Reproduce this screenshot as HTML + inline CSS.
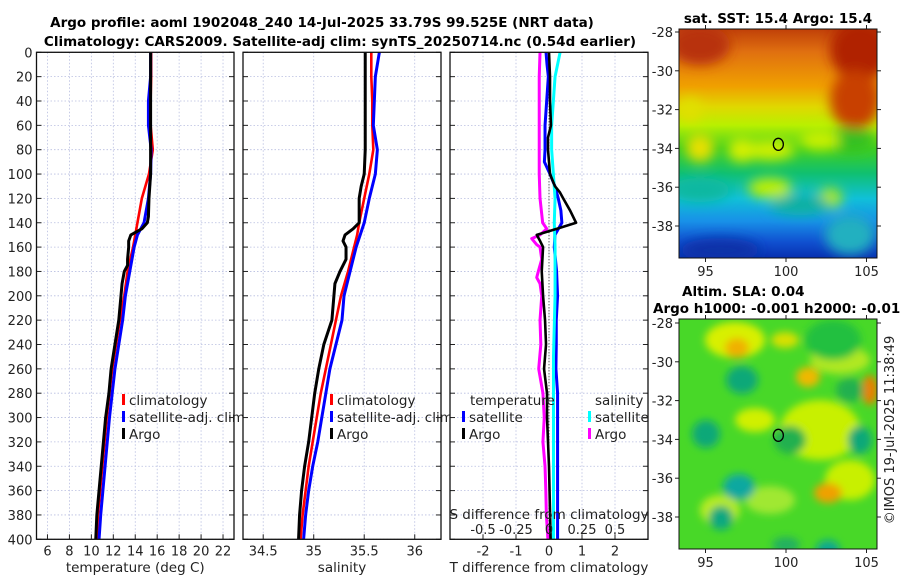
<!DOCTYPE html>
<html><head><meta charset="utf-8"><style>
html,body{margin:0;padding:0;background:#fff;}
svg{display:block;font-family:"DejaVu Sans","Liberation Sans",sans-serif;}
</style></head><body>
<svg id="fig" width="900" height="580" viewBox="0 0 900 580" xmlns="http://www.w3.org/2000/svg">
<defs>
<filter id="blur6" x="-50%" y="-50%" width="200%" height="200%"><feGaussianBlur stdDeviation="6"/></filter>
<filter id="blur4" x="-50%" y="-50%" width="200%" height="200%"><feGaussianBlur stdDeviation="4"/></filter>
<linearGradient id="sstGrad" x1="0" y1="0" x2="0" y2="1">
<stop offset="0" stop-color="#c04008"/><stop offset="0.1" stop-color="#e07010"/><stop offset="0.25" stop-color="#f0a000"/>
<stop offset="0.34" stop-color="#e0d800"/><stop offset="0.42" stop-color="#b8f000"/><stop offset="0.52" stop-color="#40d020"/>
<stop offset="0.63" stop-color="#10c070"/><stop offset="0.74" stop-color="#10c0d8"/><stop offset="0.84" stop-color="#1890e8"/>
<stop offset="0.93" stop-color="#1050d0"/><stop offset="1" stop-color="#0830b0"/></linearGradient>
<clipPath id="clipSST"><rect x="679" y="29" width="198" height="229"/></clipPath>
<clipPath id="clipSLA"><rect x="679" y="319" width="198" height="230"/></clipPath>
</defs>
<g font-weight="bold" font-size="13.5" text-anchor="middle" fill="#000">
<text x="322" y="27">Argo profile: aoml 1902048_240 14-Jul-2025 33.79S 99.525E (NRT data)</text>
<text x="340" y="46">Climatology: CARS2009. Satellite-adj clim: synTS_20250714.nc (0.54d earlier)</text>
</g>
<g id="panels"></g>
<g id="maps"></g>
<text x="0" y="0" font-size="13" fill="#222" text-anchor="middle" transform="translate(894,430) rotate(-90)">©IMOS 19-Jul-2025 11:38:49</text>
</svg>
<script>
// ---------- data ----------
const climP = [0,20,40,60,80,100,120,140,150,160,180,200,220,240,260,280,300,320,340,360,380,400];
const climT = [15.45,15.45,15.4,15.4,15.6,15.25,14.6,14.2,14.0,13.8,13.3,13.0,12.6,12.25,11.9,11.65,11.4,11.2,11.0,10.8,10.6,10.5];
const satT  = [15.4,15.4,15.2,15.2,15.45,15.4,15.2,14.8,14.2,13.9,13.5,13.1,12.85,12.5,12.15,11.9,11.65,11.45,11.25,11.05,10.85,10.7];
const climS = [35.57,35.57,35.58,35.58,35.59,35.55,35.5,35.45,35.43,35.4,35.34,35.27,35.22,35.17,35.12,35.07,35.03,34.99,34.95,34.92,34.89,34.87];
const satS  = [35.65,35.61,35.6,35.59,35.63,35.61,35.55,35.5,35.46,35.42,35.36,35.3,35.28,35.22,35.16,35.12,35.08,35.04,34.99,34.95,34.92,34.9];
const argoTP = [0,20,40,60,80,100,120,135,140,145,150,155,160,170,175,180,190,200,220,240,260,280,300,320,340,360,380,400];
const argoT  = [15.4,15.4,15.4,15.4,15.4,15.4,15.25,15.2,15.1,14.6,13.6,13.4,13.4,13.3,13.3,13.0,12.8,12.7,12.5,12.15,11.8,11.6,11.3,11.1,10.9,10.7,10.5,10.4];
const argoSP = [0,20,40,60,80,100,110,120,140,145,150,155,160,170,180,190,200,220,240,260,280,300,320,340,360,380,400];
const argoS  = [35.51,35.51,35.51,35.51,35.51,35.5,35.47,35.45,35.45,35.39,35.31,35.29,35.32,35.32,35.26,35.21,35.2,35.18,35.1,35.05,35.01,34.98,34.95,34.91,34.88,34.86,34.85];
const dTsatP = [0,10,20,40,60,80,90,100,110,120,130,140,150,160,180,200,220,240,260,280,300,340,400];
const dTsat  = [-0.09,-0.06,-0.02,-0.07,-0.12,-0.12,-0.14,0.03,0.18,0.28,0.36,0.39,0.18,0.16,0.23,0.26,0.22,0.22,0.21,0.26,0.26,0.26,0.26];
const dTargoP = [0,20,40,60,70,80,90,100,110,115,120,130,140,145,150,155,160,180,200,220,240,260,280,300,340,400];
const dTargo  = [0,0.03,0.03,0.06,-0.03,-0.03,0,0.03,0.18,0.33,0.43,0.64,0.82,0.23,-0.37,-0.27,-0.18,-0.22,-0.18,-0.12,-0.09,-0.15,-0.06,-0.06,0,0.05];
const dSsatP = [0,20,40,60,80,100,120,140,160,200,250,300,400];
const dSsat  = [0.084,0.046,0.033,0.02,0.02,0.033,0.046,0.04,0.046,0.046,0.034,0.034,0.034];
const dSargoP = [0,20,60,100,120,140,145,150,153,158,160,170,180,185,190,200,220,240,260,280,300,320,340,360,380,400];
const dSargo  = [-0.068,-0.074,-0.074,-0.074,-0.068,-0.048,-0.017,-0.068,-0.131,-0.093,-0.068,-0.055,-0.081,-0.093,-0.068,-0.055,-0.068,-0.062,-0.078,-0.046,-0.036,-0.046,-0.03,-0.024,-0.02,-0.008];
const pTicks = [0,20,40,60,80,100,120,140,160,180,200,220,240,260,280,300,320,340,360,380,400];
const tTicks = [6,8,10,12,14,16,18,20,22];
const sTicks = [34.5,35,35.5,36];
const dTTicks = [-2,-1,0,1,2];
const dSTicks = [-0.5,-0.25,0,0.25,0.5];
const dSTickLabels = ['-0.5','-0.25','0','0.25','0.5'];
const latTicks = [-28,-30,-32,-34,-36,-38];
const lonTicks = [95,100,105];
const argoLon = 99.525, argoLat = -33.79;

// ---------- helpers ----------
const NS='http://www.w3.org/2000/svg';
function mk(tag, attrs, parent, txt){const e=document.createElementNS(NS,tag);for(const k in attrs)e.setAttribute(k,attrs[k]);if(txt!==undefined)e.textContent=txt;parent.appendChild(e);return e;}
const panelsG=document.getElementById('panels');
const yTop=52.3, yBot=539.3;
function yP(p){return yTop+(p/400)*(yBot-yTop);}
function lin(d0,d1,r0,r1){return v=>r0+(v-d0)/(d1-d0)*(r1-r0);}

function panel(name,x0,x1,xmin,xmax,xt,xtl,xlabel,showY){
  const g=mk('g',{},panelsG);
  
  
  const xs=lin(xmin,xmax,x0,x1);
  mk('rect',{x:x0,y:yTop,width:x1-x0,height:yBot-yTop,fill:'#fff'},g);
  pTicks.forEach(p=>{mk('line',{x1:x0,x2:x1,y1:yP(p),y2:yP(p),stroke:'#b8bee0','stroke-width':0.8,'stroke-dasharray':'1.5,2'},g);
    mk('line',{x1:x0,x2:x0+5,y1:yP(p),y2:yP(p),stroke:'#222','stroke-width':1},g);
    mk('line',{x1:x1-5,x2:x1,y1:yP(p),y2:yP(p),stroke:'#222','stroke-width':1},g);});
  xt.forEach((t,i)=>{const x=xs(t);
    mk('line',{x1:x,x2:x,y1:yTop,y2:yBot,stroke:'#b8bee0','stroke-width':0.8,'stroke-dasharray':'1.5,2'},g);
    mk('line',{x1:x,x2:x,y1:yBot-5,y2:yBot,stroke:'#222','stroke-width':1},g);
    const lb=mk('text',{x:x,y:yBot+16,'font-size':13,'text-anchor':'middle',fill:'#222'},g,xtl[i]);
    
    });
  if(showY){pTicks.forEach(p=>{const lb=mk('text',{x:x0-4,y:yP(p)+5,'font-size':13,'text-anchor':'end',fill:'#222'},g,String(p));
    
    });}
  const xl=mk('text',{x:(x0+x1)/2,y:572,'font-size':13.5,'text-anchor':'middle',fill:'#222'},g,xlabel);
  
  
  return {g,xs};
}
function line(pn,P,V,xs,color,w,name){
  const d=P.map((p,i)=>(i?'L':'M')+xs(V[i]).toFixed(2)+','+yP(p).toFixed(2)).join('');
  const e=mk('path',{d:d,fill:'none',stroke:color,'stroke-width':w,'stroke-linejoin':'round'},pn.g);
  
  
}
function frame(g,x0,x1){mk('rect',{x:x0,y:yTop,width:x1-x0,height:yBot-yTop,fill:'none',stroke:'#111','stroke-width':1.3},g);}
function legend(g,x,y,items){items.forEach((it,i)=>{
  const ent=mk('g',{},g);
  
  
  if(it.c) mk('rect',{x:x,y:y+i*17-11,width:3,height:11,fill:it.c},ent);
  mk('text',{x:x+(it.c?7:0),y:y+i*17,'font-size':13.5,fill:'#222'},ent,it.t);});}

// Panel 1 temperature
const p1=panel('temperature-panel',36.5,234,5,23,tTicks,tTicks.map(String),'temperature (deg C)',true);
line(p1,climP,climT,p1.xs,'#f00',2.6,'climatology-temperature-line');
line(p1,climP,satT,p1.xs,'#0000ff',3,'satellite-temperature-line');
line(p1,argoTP,argoT,p1.xs,'#000',3,'argo-temperature-line');
frame(p1.g,36.5,234);
legend(p1.g,122,405,[{c:'#f00',t:'climatology'},{c:'#00f',t:'satellite-adj. clim'},{c:'#000',t:'Argo'}]);

// Panel 2 salinity
const p2=panel('salinity-panel',243,441,34.3,36.26,sTicks,sTicks.map(String),'salinity',false);
line(p2,climP,climS,p2.xs,'#f00',2.6,'climatology-salinity-line');
line(p2,climP,satS,p2.xs,'#0000ff',3,'satellite-salinity-line');
line(p2,argoSP,argoS,p2.xs,'#000',3,'argo-salinity-line');
frame(p2.g,243,441);
legend(p2.g,330,405,[{c:'#f00',t:'climatology'},{c:'#00f',t:'satellite-adj. clim'},{c:'#000',t:'Argo'}]);

// Panel 3 differences
const p3=panel('difference-panel',450,648,-3,3,dTTicks,dTTicks.map(String),'T difference from climatology',false);
const xsS=lin(-0.75,0.75,450,648);
mk('line',{x1:p3.xs(0),x2:p3.xs(0),y1:yTop,y2:yBot,stroke:'#333','stroke-width':1,'stroke-dasharray':'1,2'},p3.g);
line(p3,dSargoP,dSargo,xsS,'#ff00ff',3,'argo-salinity-diff-line');
line(p3,dTsatP,dTsat,p3.xs,'#0000ff',3,'satellite-temperature-diff-line');
line(p3,dSsatP,dSsat,xsS,'#00ffff',3,'satellite-salinity-diff-line');
line(p3,dTargoP,dTargo,p3.xs,'#000',2.6,'argo-temperature-diff-line');
frame(p3.g,450,648);
legend(p3.g,462,405,[{c:null,t:''},{c:'#00f',t:'satellite'},{c:'#000',t:'Argo'}]);
mk('text',{x:470,y:405,'font-size':13.5,fill:'#222'},p3.g,'temperature');
legend(p3.g,588,405,[{c:null,t:''},{c:'#00ffff',t:'satellite'},{c:'#ff00ff',t:'Argo'}]);
mk('text',{x:595,y:405,'font-size':13.5,fill:'#222'},p3.g,'salinity');
const sdl=mk('text',{x:549,y:519,'font-size':13.5,'text-anchor':'middle',fill:'#222'},p3.g,'S difference from climatology');


dSTicks.forEach((t,i)=>{const e=mk('text',{x:xsS(t),y:534,'font-size':13,'text-anchor':'middle',fill:'#222'},p3.g,dSTickLabels[i]);
  
  });

// ---------- maps ----------
const mapsG=document.getElementById('maps');
const lonX=lin(95,105,705.5,866.5);
function mapAxes(g,ytop,ybot,lat28y){
  const latY=lat=>lat28y+(-28-lat)*19.4;
  latTicks.forEach(l=>{const y=latY(l);
    mk('line',{x1:675,x2:679,y1:y,y2:y,stroke:'#222'},g);
    mk('line',{x1:877,x2:881,y1:y,y2:y,stroke:'#222'},g);
    const e=mk('text',{x:673,y:y+5,'font-size':13,'text-anchor':'end',fill:'#222'},g,String(l));
    
    });
  lonTicks.forEach(l=>{const x=lonX(l);
    mk('line',{x1:x,x2:x,y1:ytop-4,y2:ytop,stroke:'#222'},g);
    mk('line',{x1:x,x2:x,y1:ybot,y2:ybot+4,stroke:'#222'},g);
    const e=mk('text',{x:x,y:ybot+18,'font-size':13,'text-anchor':'middle',fill:'#222'},g,String(l));
    
    });
  mk('rect',{x:679,y:ytop,width:198,height:ybot-ytop,fill:'none',stroke:'#111','stroke-width':1},g);
  const m=mk('ellipse',{cx:lonX(argoLon),cy:latY(argoLat),rx:5,ry:6,fill:'none',stroke:'#000','stroke-width':1.3},g);
  
  
  return latY;
}
// SST map
const sst=mk('g',{},mapsG);


const sstImg=mk('g',{'clip-path':'url(#clipSST)'},sst);
mk('rect',{x:679,y:29,width:198,height:229,fill:'url(#sstGrad)'},sstImg);
const sb=mk('g',{filter:'url(#blur6)'},sstImg);
[[860,50,30,30,'#b02000'],[700,45,30,20,'#b83008'],[855,100,25,30,'#c84000'],[700,148,14,14,'#e8e000'],[742,150,14,12,'#d8f000'],[770,150,25,10,'#d0f000'],[850,140,25,12,'#30c020'],[770,188,22,10,'#c0f000'],[830,198,12,10,'#b0e800'],[700,190,30,12,'#10b8a0'],[800,205,30,10,'#10b0a0'],[850,235,25,20,'#20b0c0'],[720,250,40,12,'#0830a8'],[690,110,12,12,'#e0e000'],[820,140,20,10,'#c8f000']].forEach(b=>mk('ellipse',{cx:b[0],cy:b[1],rx:b[2],ry:b[3],fill:b[4]},sb));
mapAxes(sst,29,258,32);
const st=mk('text',{x:778,y:23,'font-size':13.5,'font-weight':'bold','text-anchor':'middle',fill:'#000'},sst,'sat. SST: 15.4 Argo: 15.4');


// SLA map
const sla=mk('g',{},mapsG);


const slaImg=mk('g',{'clip-path':'url(#clipSLA)'},sla);
mk('rect',{x:679,y:319,width:198,height:230,fill:'#48d828'},slaImg);
const lb=mk('g',{filter:'url(#blur4)'},slaImg);
[[735,340,30,18,'#d8f000'],[820,430,40,30,'#c8f000'],[850,480,25,20,'#c8f000'],[755,420,20,12,'#d0f000'],[720,510,20,15,'#b8ec20'],[770,500,25,14,'#a0e830'],[840,360,30,14,'#b0e820'],
 [737,348,12,10,'#f0b000'],[808,377,12,10,'#f0b800'],[870,390,8,15,'#e88000'],[828,493,14,10,'#f0a000'],[785,340,14,8,'#d8e000'],
 [833,340,28,20,'#20c040'],[742,380,16,14,'#10a878'],[706,434,14,14,'#10a878'],[739,487,16,13,'#10a8a0'],[721,518,12,12,'#10a880'],[860,440,12,14,'#10a878'],[828,550,12,10,'#10a890'],[790,440,16,14,'#20b050'],[850,390,14,12,'#20b050'],[786,545,14,8,'#20b060']].forEach(b=>mk('ellipse',{cx:b[0],cy:b[1],rx:b[2],ry:b[3],fill:b[4]},lb));
mapAxes(sla,319,549,323);
const t1=mk('text',{x:682,y:296,'font-size':13.5,'font-weight':'bold',fill:'#000'},sla,'Altim. SLA: 0.04');


const t2=mk('text',{x:653,y:313,'font-size':13.5,'font-weight':'bold',fill:'#000'},sla,'Argo h1000: -0.001 h2000: -0.015');


</script>
</body></html>
